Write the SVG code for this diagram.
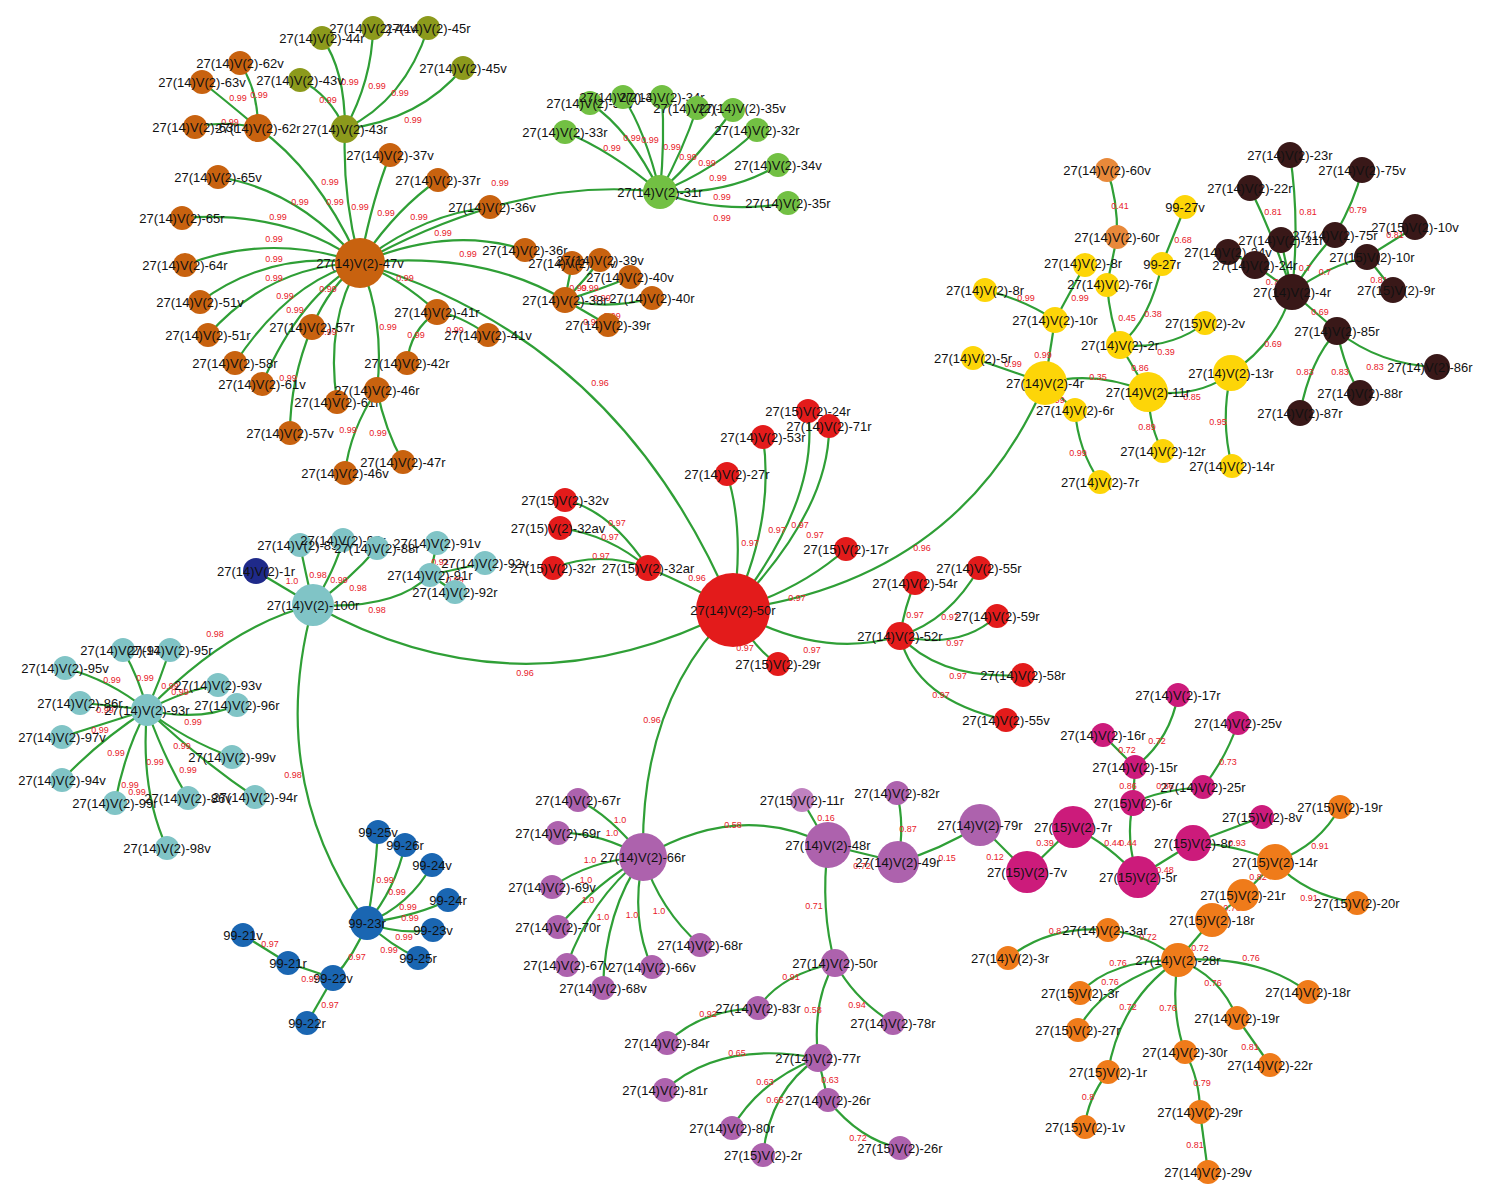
<svg xmlns="http://www.w3.org/2000/svg" width="1492" height="1200" viewBox="0 0 1492 1200">
<style>
.e{fill:none;stroke:#2f9f36;stroke-width:2.2}
.el{font-family:"Liberation Sans",Arial,sans-serif;font-size:9px;fill:#e8202a;text-anchor:middle}
text.t{font-family:"Liberation Sans",Arial,sans-serif;font-size:13px;fill:#111;text-anchor:middle}
.br circle{fill:#c8620f}.ol circle{fill:#8c9a1c}.gr circle{fill:#72c043}.rd circle{fill:#e31b1b}
.cy circle{fill:#80c4c6}.db circle{fill:#1f2a8a}.bl circle{fill:#1a66b2}.pu circle{fill:#ad62ad}
.pl circle{fill:#c082c0}.mg circle{fill:#cc1b7b}.or circle{fill:#ef7b1a}.ol2 circle{fill:#e8893a}
.ye circle{fill:#fdd508}.dk circle{fill:#391818}
</style>
<rect width="1492" height="1200" fill="#fff"/>
<g id="connectors">
<path class="e" d="M360 263Q342 195 345 129"/><path class="e" d="M360 263Q318 170 258 128"/><path class="e" d="M360 263Q300 190 218 177"/><path class="e" d="M360 263Q372 200 390 155"/><path class="e" d="M360 263Q395 210 438 180"/><path class="e" d="M360 263Q420 215 490 207"/><path class="e" d="M360 263Q450 225 525 250"/><path class="e" d="M360 263Q480 250 565 300"/><path class="e" d="M360 263Q520 175 660 192"/><path class="e" d="M360 263Q290 210 182 218"/><path class="e" d="M360 263Q270 232 185 265"/><path class="e" d="M360 263Q270 250 200 302"/><path class="e" d="M360 263Q270 265 208 335"/><path class="e" d="M360 263Q290 280 235 363"/><path class="e" d="M360 263Q300 295 262 384"/><path class="e" d="M360 263Q330 285 312 327"/><path class="e" d="M360 263Q325 320 337 402"/><path class="e" d="M360 263Q385 320 377 390"/><path class="e" d="M360 263Q400 278 437 312"/><path class="e" d="M360 263Q620 340 733 610"/><path class="e" d="M312 327Q290 380 290 433"/><path class="e" d="M377 390Q350 430 345 473"/><path class="e" d="M377 390Q385 430 403 462"/><path class="e" d="M437 312Q410 330 407 363"/><path class="e" d="M437 312Q460 315 488 335"/><path class="e" d="M258 128Q258 90 240 63"/><path class="e" d="M258 128Q225 100 202 82"/><path class="e" d="M258 128Q225 120 195 127"/><path class="e" d="M345 129Q330 95 300 80"/><path class="e" d="M345 129Q345 70 322 38"/><path class="e" d="M345 129Q372 80 373 28"/><path class="e" d="M345 129Q405 100 428 28"/><path class="e" d="M345 129Q420 120 463 68"/><path class="e" d="M565 300L572 263"/><path class="e" d="M565 300Q585 280 600 260"/><path class="e" d="M565 300Q600 290 630 277"/><path class="e" d="M565 300Q610 310 652 298"/><path class="e" d="M565 300L608 325"/>
<path class="e" d="M660 192Q610 150 565 132"/><path class="e" d="M660 192Q630 130 590 103"/><path class="e" d="M660 192Q645 130 623 97"/><path class="e" d="M660 192Q665 140 662 97"/><path class="e" d="M660 192Q683 150 697 108"/><path class="e" d="M660 192Q700 155 733 110"/><path class="e" d="M660 192Q715 170 757 130"/><path class="e" d="M660 192Q730 195 778 165"/><path class="e" d="M660 192Q720 215 788 203"/>
<path class="e" d="M733 610Q820 500 808 411"/><path class="e" d="M733 610Q830 510 829 426"/><path class="e" d="M733 610Q775 520 763 437"/><path class="e" d="M733 610Q745 530 727 474"/><path class="e" d="M733 610Q800 590 846 549"/><path class="e" d="M733 610Q690 585 648 568"/><path class="e" d="M733 610Q755 650 778 664"/><path class="e" d="M733 610Q820 660 900 636"/><path class="e" d="M733 610Q960 580 1045 383"/><path class="e" d="M733 610Q520 720 313 605"/><path class="e" d="M733 610Q640 700 643 857"/><path class="e" d="M648 568Q610 510 565 500"/><path class="e" d="M648 568Q610 535 560 528"/><path class="e" d="M648 568Q600 550 553 568"/><path class="e" d="M900 636Q905 605 915 583"/><path class="e" d="M900 636Q950 620 979 568"/><path class="e" d="M900 636Q960 650 997 616"/><path class="e" d="M900 636Q940 680 1023 675"/><path class="e" d="M900 636Q915 700 1006 720"/>
<path class="e" d="M313 605L256 571"/><path class="e" d="M313 605Q305 570 300 545"/><path class="e" d="M313 605Q335 570 343 540"/><path class="e" d="M313 605Q350 580 377 548"/><path class="e" d="M313 605Q395 610 430 575"/><path class="e" d="M430 575L437 543"/><path class="e" d="M430 575L485 563"/><path class="e" d="M430 575L455 592"/><path class="e" d="M313 605Q230 625 147 710"/><path class="e" d="M313 605Q265 780 367 923"/>
<path class="e" d="M147 710Q140 680 123 650"/><path class="e" d="M147 710Q160 680 170 650"/><path class="e" d="M147 710Q110 680 65 668"/><path class="e" d="M147 710Q185 690 218 685"/><path class="e" d="M147 710Q200 722 237 705"/><path class="e" d="M147 710Q110 705 80 703"/><path class="e" d="M147 710Q100 725 62 737"/><path class="e" d="M147 710Q185 740 232 757"/><path class="e" d="M147 710Q100 740 62 780"/><path class="e" d="M147 710Q125 750 115 803"/><path class="e" d="M147 710Q165 760 188 798"/><path class="e" d="M147 710Q200 760 255 797"/><path class="e" d="M147 710Q140 790 167 848"/>
<path class="e" d="M367 923Q375 880 378 832"/><path class="e" d="M367 923Q395 890 405 845"/><path class="e" d="M367 923Q410 905 432 865"/><path class="e" d="M367 923Q420 915 448 900"/><path class="e" d="M367 923Q400 935 433 930"/><path class="e" d="M367 923Q390 945 418 958"/><path class="e" d="M367 923Q355 955 333 978"/><path class="e" d="M333 978L288 963"/><path class="e" d="M288 963L243 935"/><path class="e" d="M333 978L307 1023"/>
<path class="e" d="M643 857Q610 815 578 800"/><path class="e" d="M643 857Q600 832 558 833"/><path class="e" d="M643 857Q590 860 552 887"/><path class="e" d="M643 857Q600 880 558 927"/><path class="e" d="M643 857Q590 900 567 965"/><path class="e" d="M643 857Q605 910 603 988"/><path class="e" d="M643 857Q630 920 652 967"/><path class="e" d="M643 857Q660 910 700 945"/><path class="e" d="M643 857Q740 800 828 845"/><path class="e" d="M828 845L802 800"/><path class="e" d="M828 845L898 862"/><path class="e" d="M898 862Q905 825 897 793"/><path class="e" d="M898 862Q940 850 980 825"/><path class="e" d="M828 845Q820 910 835 963"/><path class="e" d="M835 963Q780 975 758 1008"/><path class="e" d="M758 1008Q700 1010 667 1043"/><path class="e" d="M835 963Q812 1000 818 1058"/><path class="e" d="M835 963Q855 1000 893 1023"/><path class="e" d="M818 1058Q720 1040 665 1090"/><path class="e" d="M818 1058Q760 1080 732 1128"/><path class="e" d="M818 1058Q770 1090 763 1155"/><path class="e" d="M818 1058L828 1100"/><path class="e" d="M828 1100Q860 1140 900 1148"/><path class="e" d="M980 825L1027 872"/>
<path class="e" d="M1178 695Q1170 740 1135 767"/><path class="e" d="M1103 735L1135 767"/><path class="e" d="M1135 767L1133 803"/><path class="e" d="M1133 803Q1160 790 1203 787"/><path class="e" d="M1203 787Q1225 760 1238 723"/><path class="e" d="M1133 803Q1125 840 1138 877"/><path class="e" d="M1073 827Q1110 845 1138 877"/><path class="e" d="M1073 827L1027 872"/><path class="e" d="M1138 877L1193 843"/><path class="e" d="M1193 843Q1240 845 1275 862"/><path class="e" d="M1193 843L1262 817"/>
<path class="e" d="M1275 862Q1320 845 1340 807"/><path class="e" d="M1275 862Q1305 895 1357 903"/><path class="e" d="M1275 862L1243 895"/><path class="e" d="M1243 895L1212 920"/><path class="e" d="M1212 920L1178 960"/><path class="e" d="M1178 960Q1150 935 1108 930"/><path class="e" d="M1108 930Q1050 925 1008 958"/><path class="e" d="M1178 960Q1260 955 1308 992"/><path class="e" d="M1178 960Q1110 960 1080 993"/><path class="e" d="M1178 960Q1100 985 1078 1030"/><path class="e" d="M1178 960Q1120 1000 1108 1072"/><path class="e" d="M1178 960Q1170 1010 1185 1052"/><path class="e" d="M1178 960Q1220 975 1237 1018"/><path class="e" d="M1237 1018L1270 1065"/><path class="e" d="M1185 1052Q1200 1080 1200 1112"/><path class="e" d="M1200 1112L1208 1172"/><path class="e" d="M1108 1072Q1087 1100 1085 1127"/>
<path class="e" d="M1107 170Q1118 200 1117 237"/><path class="e" d="M1117 237L1107 285"/><path class="e" d="M1185 207L1162 264"/><path class="e" d="M1162 264Q1150 320 1120 345"/><path class="e" d="M1107 285Q1110 320 1120 345"/><path class="e" d="M1085 265L1055 320"/><path class="e" d="M985 290Q1025 300 1055 320"/><path class="e" d="M1055 320L1045 383"/><path class="e" d="M973 358L1045 383"/><path class="e" d="M1045 383Q1095 370 1148 392"/><path class="e" d="M1120 345L1148 392"/><path class="e" d="M1120 345Q1170 350 1205 323"/><path class="e" d="M1045 383L1075 410"/><path class="e" d="M1075 410Q1078 450 1100 482"/><path class="e" d="M1148 392Q1150 430 1163 451"/><path class="e" d="M1148 392Q1200 398 1231 373"/><path class="e" d="M1231 373Q1220 420 1232 466"/><path class="e" d="M1231 373Q1275 345 1292 292"/>
<path class="e" d="M1292 292Q1300 220 1290 155"/><path class="e" d="M1292 292Q1275 240 1250 188"/><path class="e" d="M1292 292L1281 240"/><path class="e" d="M1292 292Q1315 255 1335 235"/><path class="e" d="M1335 235Q1355 200 1362 170"/><path class="e" d="M1292 292Q1330 265 1367 257"/><path class="e" d="M1367 257L1415 227"/><path class="e" d="M1367 257L1393 290"/><path class="e" d="M1292 292L1255 265"/><path class="e" d="M1255 265L1228 252"/><path class="e" d="M1292 292L1337 331"/><path class="e" d="M1337 331Q1380 365 1437 367"/><path class="e" d="M1337 331Q1345 370 1360 393"/><path class="e" d="M1337 331Q1310 360 1300 413"/>
<g id="edge-labels">
<text class="el" x="335" y="205">0.99</text><text class="el" x="330" y="185">0.99</text><text class="el" x="300" y="205">0.99</text><text class="el" x="360" y="210">0.99</text><text class="el" x="386" y="216">0.99</text><text class="el" x="419" y="220">0.99</text><text class="el" x="443" y="236">0.99</text><text class="el" x="468" y="257">0.99</text><text class="el" x="500" y="186">0.99</text><text class="el" x="278" y="220">0.99</text><text class="el" x="274" y="242">0.99</text><text class="el" x="274" y="262">0.99</text><text class="el" x="274" y="281">0.99</text><text class="el" x="285" y="299">0.99</text><text class="el" x="295" y="313">0.99</text><text class="el" x="328" y="292">0.99</text><text class="el" x="328" y="335">0.99</text><text class="el" x="388" y="330">0.99</text><text class="el" x="405" y="281">0.99</text><text class="el" x="600" y="386">0.96</text><text class="el" x="288" y="381">0.99</text><text class="el" x="348" y="433">0.99</text><text class="el" x="378" y="436">0.99</text><text class="el" x="416" y="338">0.99</text><text class="el" x="455" y="333">0.99</text><text class="el" x="259" y="98">0.99</text><text class="el" x="238" y="101">0.99</text><text class="el" x="230" y="125">0.99</text><text class="el" x="328" y="103">0.99</text><text class="el" x="350" y="85">0.99</text><text class="el" x="377" y="89">0.99</text><text class="el" x="400" y="96">0.99</text><text class="el" x="413" y="123">0.99</text><text class="el" x="578" y="291">0.99</text><text class="el" x="590" y="291">0.99</text><text class="el" x="602" y="301">0.99</text><text class="el" x="612" y="319">0.99</text><text class="el" x="592" y="325">0.99</text>
<text class="el" x="612" y="151">0.99</text><text class="el" x="632" y="141">0.99</text><text class="el" x="650" y="143">0.99</text><text class="el" x="672" y="150">0.99</text><text class="el" x="688" y="160">0.99</text><text class="el" x="707" y="166">0.99</text><text class="el" x="718" y="181">0.99</text><text class="el" x="722" y="200">0.99</text><text class="el" x="722" y="221">0.99</text>
<text class="el" x="800" y="528">0.97</text><text class="el" x="815" y="538">0.97</text><text class="el" x="777" y="533">0.97</text><text class="el" x="750" y="546">0.97</text><text class="el" x="797" y="601">0.97</text><text class="el" x="697" y="581">0.96</text><text class="el" x="745" y="651">0.97</text><text class="el" x="812" y="653">0.97</text><text class="el" x="922" y="551">0.96</text><text class="el" x="525" y="676">0.96</text><text class="el" x="652" y="723">0.96</text><text class="el" x="617" y="526">0.97</text><text class="el" x="610" y="540">0.97</text><text class="el" x="601" y="559">0.97</text><text class="el" x="915" y="618">0.97</text><text class="el" x="950" y="620">0.97</text><text class="el" x="955" y="646">0.97</text><text class="el" x="958" y="679">0.97</text><text class="el" x="941" y="698">0.97</text>
<text class="el" x="292" y="584">1.0</text><text class="el" x="318" y="578">0.98</text><text class="el" x="339" y="583">0.99</text><text class="el" x="358" y="591">0.98</text><text class="el" x="377" y="613">0.98</text><text class="el" x="440" y="565">0.92</text><text class="el" x="455" y="583">0.99</text><text class="el" x="215" y="637">0.98</text><text class="el" x="293" y="778">0.98</text>
<text class="el" x="145" y="681">0.99</text><text class="el" x="170" y="689">0.99</text><text class="el" x="112" y="683">0.99</text><text class="el" x="180" y="695">0.99</text><text class="el" x="193" y="725">0.99</text><text class="el" x="105" y="713">0.99</text><text class="el" x="100" y="733">0.99</text><text class="el" x="182" y="749">0.99</text><text class="el" x="116" y="756">0.99</text><text class="el" x="130" y="788">0.99</text><text class="el" x="155" y="765">0.99</text><text class="el" x="188" y="773">0.99</text><text class="el" x="137" y="795">0.99</text>
<text class="el" x="385" y="883">0.99</text><text class="el" x="397" y="895">0.99</text><text class="el" x="408" y="910">0.99</text><text class="el" x="410" y="921">0.99</text><text class="el" x="404" y="940">0.99</text><text class="el" x="389" y="953">0.99</text><text class="el" x="357" y="960">0.97</text><text class="el" x="310" y="982">0.97</text><text class="el" x="270" y="947">0.97</text><text class="el" x="330" y="1008">0.97</text>
<text class="el" x="620" y="823">1.0</text><text class="el" x="612" y="836">1.0</text><text class="el" x="590" y="863">1.0</text><text class="el" x="586" y="883">1.0</text><text class="el" x="588" y="903">1.0</text><text class="el" x="603" y="920">1.0</text><text class="el" x="632" y="918">1.0</text><text class="el" x="659" y="914">1.0</text><text class="el" x="733" y="828">0.58</text><text class="el" x="826" y="821">0.16</text><text class="el" x="862" y="869">0.72</text><text class="el" x="908" y="832">0.87</text><text class="el" x="947" y="861">0.15</text><text class="el" x="814" y="909">0.71</text><text class="el" x="791" y="980">0.91</text><text class="el" x="708" y="1017">0.92</text><text class="el" x="813" y="1013">0.58</text><text class="el" x="857" y="1008">0.94</text><text class="el" x="737" y="1056">0.65</text><text class="el" x="765" y="1085">0.63</text><text class="el" x="775" y="1103">0.65</text><text class="el" x="830" y="1083">0.63</text><text class="el" x="858" y="1141">0.72</text><text class="el" x="995" y="860">0.12</text>
<text class="el" x="1157" y="744">0.72</text><text class="el" x="1127" y="753">0.72</text><text class="el" x="1128" y="789">0.86</text><text class="el" x="1165" y="789">0.86</text><text class="el" x="1228" y="765">0.73</text><text class="el" x="1128" y="846">0.44</text><text class="el" x="1113" y="846">0.44</text><text class="el" x="1045" y="846">0.39</text><text class="el" x="1165" y="873">0.48</text><text class="el" x="1237" y="846">0.93</text>
<text class="el" x="1320" y="849">0.91</text><text class="el" x="1309" y="901">0.91</text><text class="el" x="1258" y="880">0.82</text><text class="el" x="1232" y="911">0.78</text><text class="el" x="1200" y="951">0.72</text><text class="el" x="1148" y="940">0.72</text><text class="el" x="1055" y="934">0.8</text><text class="el" x="1251" y="961">0.76</text><text class="el" x="1118" y="966">0.76</text><text class="el" x="1110" y="985">0.76</text><text class="el" x="1128" y="1010">0.72</text><text class="el" x="1168" y="1011">0.76</text><text class="el" x="1213" y="986">0.76</text><text class="el" x="1250" y="1050">0.81</text><text class="el" x="1202" y="1086">0.79</text><text class="el" x="1195" y="1148">0.81</text><text class="el" x="1088" y="1100">0.8</text>
<text class="el" x="1120" y="209">0.41</text><text class="el" x="1183" y="243">0.68</text><text class="el" x="1153" y="317">0.38</text><text class="el" x="1127" y="321">0.45</text><text class="el" x="1080" y="301">0.99</text><text class="el" x="1026" y="301">0.99</text><text class="el" x="1043" y="358">0.99</text><text class="el" x="1013" y="367">0.99</text><text class="el" x="1098" y="380">0.35</text><text class="el" x="1140" y="371">0.86</text><text class="el" x="1166" y="355">0.39</text><text class="el" x="1056" y="403">0.99</text><text class="el" x="1078" y="456">0.99</text><text class="el" x="1147" y="430">0.89</text><text class="el" x="1192" y="400">0.85</text><text class="el" x="1218" y="425">0.95</text><text class="el" x="1273" y="347">0.69</text>
<text class="el" x="1308" y="215">0.81</text><text class="el" x="1273" y="215">0.81</text><text class="el" x="1305" y="271">0.7</text><text class="el" x="1358" y="213">0.79</text><text class="el" x="1325" y="275">0.7</text><text class="el" x="1395" y="238">0.81</text><text class="el" x="1379" y="283">0.81</text><text class="el" x="1272" y="285">0.7</text><text class="el" x="1320" y="315">0.69</text><text class="el" x="1375" y="370">0.83</text><text class="el" x="1340" y="375">0.83</text><text class="el" x="1305" y="375">0.83</text>
</g>
</g>
<g id="nodes">
<g id="b47v" class="br"><circle cx="360" cy="263" r="25"/><text class="t" x="360" y="268">27(14)V(2)-47v</text></g>
<g id="b62v" class="br"><circle cx="240" cy="63" r="12"/><text class="t" x="240" y="68">27(14)V(2)-62v</text></g>
<g id="b63v" class="br"><circle cx="202" cy="82" r="12"/><text class="t" x="202" y="87">27(14)V(2)-63v</text></g>
<g id="b63r" class="br"><circle cx="195" cy="127" r="12"/><text class="t" x="195" y="132">27(14)V(2)-63r</text></g>
<g id="b62r" class="br"><circle cx="258" cy="128" r="14"/><text class="t" x="258" y="133">27(14)V(2)-62r</text></g>
<g id="b37v" class="br"><circle cx="390" cy="155" r="12"/><text class="t" x="390" y="160">27(14)V(2)-37v</text></g>
<g id="b37r" class="br"><circle cx="438" cy="180" r="12"/><text class="t" x="438" y="185">27(14)V(2)-37r</text></g>
<g id="b36v" class="br"><circle cx="490" cy="207" r="12"/><text class="t" x="492" y="212">27(14)V(2)-36v</text></g>
<g id="b65v" class="br"><circle cx="218" cy="177" r="12"/><text class="t" x="218" y="182">27(14)V(2)-65v</text></g>
<g id="b65r" class="br"><circle cx="182" cy="218" r="12"/><text class="t" x="182" y="223">27(14)V(2)-65r</text></g>
<g id="b64r" class="br"><circle cx="185" cy="265" r="12"/><text class="t" x="185" y="270">27(14)V(2)-64r</text></g>
<g id="b51v" class="br"><circle cx="200" cy="302" r="12"/><text class="t" x="200" y="307">27(14)V(2)-51v</text></g>
<g id="b51r" class="br"><circle cx="208" cy="335" r="12"/><text class="t" x="208" y="340">27(14)V(2)-51r</text></g>
<g id="b58r" class="br"><circle cx="235" cy="363" r="12"/><text class="t" x="235" y="368">27(14)V(2)-58r</text></g>
<g id="b61v" class="br"><circle cx="262" cy="384" r="12"/><text class="t" x="262" y="389">27(14)V(2)-61v</text></g>
<g id="b57r" class="br"><circle cx="312" cy="327" r="13"/><text class="t" x="312" y="332">27(14)V(2)-57r</text></g>
<g id="b57v" class="br"><circle cx="290" cy="433" r="12"/><text class="t" x="290" y="438">27(14)V(2)-57v</text></g>
<g id="b61r" class="br"><circle cx="337" cy="402" r="12"/><text class="t" x="337" y="407">27(14)V(2)-61r</text></g>
<g id="b46r" class="br"><circle cx="377" cy="390" r="13"/><text class="t" x="377" y="395">27(14)V(2)-46r</text></g>
<g id="b46v" class="br"><circle cx="345" cy="473" r="12"/><text class="t" x="345" y="478">27(14)V(2)-46v</text></g>
<g id="b47r" class="br"><circle cx="403" cy="462" r="12"/><text class="t" x="403" y="467">27(14)V(2)-47r</text></g>
<g id="b42r" class="br"><circle cx="407" cy="363" r="12"/><text class="t" x="407" y="368">27(14)V(2)-42r</text></g>
<g id="b41r" class="br"><circle cx="437" cy="312" r="13"/><text class="t" x="437" y="317">27(14)V(2)-41r</text></g>
<g id="b41v" class="br"><circle cx="488" cy="335" r="12"/><text class="t" x="488" y="340">27(14)V(2)-41v</text></g>
<g id="b36r" class="br"><circle cx="525" cy="250" r="12"/><text class="t" x="525" y="255">27(14)V(2)-36r</text></g>
<g id="b38v" class="br"><circle cx="572" cy="263" r="12"/><text class="t" x="572" y="268">27(14)V(2)-38v</text></g>
<g id="b39v" class="br"><circle cx="600" cy="260" r="12"/><text class="t" x="600" y="265">27(14)V(2)-39v</text></g>
<g id="b40v" class="br"><circle cx="630" cy="277" r="12"/><text class="t" x="630" y="282">27(14)V(2)-40v</text></g>
<g id="b40r" class="br"><circle cx="652" cy="298" r="12"/><text class="t" x="652" y="303">27(14)V(2)-40r</text></g>
<g id="b38r" class="br"><circle cx="565" cy="300" r="13"/><text class="t" x="565" y="305">27(14)V(2)-38r</text></g>
<g id="b39r" class="br"><circle cx="608" cy="325" r="12"/><text class="t" x="608" y="330">27(14)V(2)-39r</text></g>
<g id="o43r" class="ol"><circle cx="345" cy="129" r="14"/><text class="t" x="345" y="134">27(14)V(2)-43r</text></g>
<g id="o43v" class="ol"><circle cx="300" cy="80" r="12"/><text class="t" x="300" y="85">27(14)V(2)-43v</text></g>
<g id="o44r" class="ol"><circle cx="322" cy="38" r="12"/><text class="t" x="322" y="43">27(14)V(2)-44r</text></g>
<g id="o44v" class="ol"><circle cx="373" cy="28" r="12"/><text class="t" x="373" y="33">27(14)V(2)-44v</text></g>
<g id="o45r" class="ol"><circle cx="428" cy="28" r="12"/><text class="t" x="428" y="33">27(14)V(2)-45r</text></g>
<g id="o45v" class="ol"><circle cx="463" cy="68" r="12"/><text class="t" x="463" y="73">27(14)V(2)-45v</text></g>
<g id="g31r" class="gr"><circle cx="660" cy="192" r="17"/><text class="t" x="660" y="197">27(14)V(2)-31r</text></g>
<g id="g33r" class="gr"><circle cx="565" cy="132" r="12"/><text class="t" x="565" y="137">27(14)V(2)-33r</text></g>
<g id="g31v" class="gr"><circle cx="590" cy="103" r="12"/><text class="t" x="590" y="108">27(14)V(2)-31v</text></g>
<g id="g32v" class="gr"><circle cx="623" cy="97" r="12"/><text class="t" x="623" y="102">27(14)V(2)-32v</text></g>
<g id="g34r" class="gr"><circle cx="662" cy="97" r="12"/><text class="t" x="662" y="102">27(14)V(2)-34r</text></g>
<g id="g33v" class="gr"><circle cx="697" cy="108" r="12"/><text class="t" x="697" y="113">27(14)V(2)-33v</text></g>
<g id="g35v" class="gr"><circle cx="733" cy="110" r="12"/><text class="t" x="742" y="113">27(14)V(2)-35v</text></g>
<g id="g32r" class="gr"><circle cx="757" cy="130" r="12"/><text class="t" x="757" y="135">27(14)V(2)-32r</text></g>
<g id="g34v" class="gr"><circle cx="778" cy="165" r="12"/><text class="t" x="778" y="170">27(14)V(2)-34v</text></g>
<g id="g35r" class="gr"><circle cx="788" cy="203" r="12"/><text class="t" x="788" y="208">27(14)V(2)-35r</text></g>
<g id="r50r" class="rd"><circle cx="733" cy="610" r="37"/><text class="t" x="733" y="615">27(14)V(2)-50r</text></g>
<g id="r24r" class="rd"><circle cx="808" cy="411" r="12"/><text class="t" x="808" y="416">27(15)V(2)-24r</text></g>
<g id="r71r" class="rd"><circle cx="829" cy="426" r="12"/><text class="t" x="829" y="431">27(14)V(2)-71r</text></g>
<g id="r53r" class="rd"><circle cx="763" cy="437" r="12"/><text class="t" x="763" y="442">27(14)V(2)-53r</text></g>
<g id="r27r" class="rd"><circle cx="727" cy="474" r="12"/><text class="t" x="727" y="479">27(14)V(2)-27r</text></g>
<g id="r17r" class="rd"><circle cx="846" cy="549" r="12"/><text class="t" x="846" y="554">27(15)V(2)-17r</text></g>
<g id="r32v" class="rd"><circle cx="565" cy="500" r="12"/><text class="t" x="565" y="505">27(15)V(2)-32v</text></g>
<g id="r32av" class="rd"><circle cx="560" cy="528" r="12"/><text class="t" x="558" y="533">27(15)V(2)-32av</text></g>
<g id="r32r" class="rd"><circle cx="553" cy="568" r="12"/><text class="t" x="553" y="573">27(15)V(2)-32r</text></g>
<g id="r32ar" class="rd"><circle cx="648" cy="568" r="13"/><text class="t" x="648" y="573">27(15)V(2)-32ar</text></g>
<g id="r29r" class="rd"><circle cx="778" cy="664" r="12"/><text class="t" x="778" y="669">27(15)V(2)-29r</text></g>
<g id="r52r" class="rd"><circle cx="900" cy="636" r="14"/><text class="t" x="900" y="641">27(14)V(2)-52r</text></g>
<g id="r54r" class="rd"><circle cx="915" cy="583" r="12"/><text class="t" x="915" y="588">27(14)V(2)-54r</text></g>
<g id="r55r" class="rd"><circle cx="979" cy="568" r="12"/><text class="t" x="979" y="573">27(14)V(2)-55r</text></g>
<g id="r59r" class="rd"><circle cx="997" cy="616" r="12"/><text class="t" x="997" y="621">27(14)V(2)-59r</text></g>
<g id="r58r" class="rd"><circle cx="1023" cy="675" r="12"/><text class="t" x="1023" y="680">27(14)V(2)-58r</text></g>
<g id="r55v" class="rd"><circle cx="1006" cy="720" r="12"/><text class="t" x="1006" y="725">27(14)V(2)-55v</text></g>
<g id="c100r" class="cy"><circle cx="313" cy="605" r="21"/><text class="t" x="313" y="610">27(14)V(2)-100r</text></g>
<g id="d1r" class="db"><circle cx="256" cy="571" r="13"/><text class="t" x="256" y="576">27(14)V(2)-1r</text></g>
<g id="c89r" class="cy"><circle cx="300" cy="545" r="12"/><text class="t" x="300" y="550">27(14)V(2)-89r</text></g>
<g id="c90r" class="cy"><circle cx="343" cy="540" r="12"/><text class="t" x="343" y="545">27(14)V(2)-90r</text></g>
<g id="c88r" class="cy"><circle cx="377" cy="548" r="12"/><text class="t" x="377" y="553">27(14)V(2)-88r</text></g>
<g id="c91v" class="cy"><circle cx="437" cy="543" r="12"/><text class="t" x="437" y="548">27(14)V(2)-91v</text></g>
<g id="c92v" class="cy"><circle cx="485" cy="563" r="12"/><text class="t" x="485" y="568">27(14)V(2)-92v</text></g>
<g id="c91r" class="cy"><circle cx="430" cy="575" r="12"/><text class="t" x="430" y="580">27(14)V(2)-91r</text></g>
<g id="c92r" class="cy"><circle cx="455" cy="592" r="12"/><text class="t" x="455" y="597">27(14)V(2)-92r</text></g>
<g id="c93r" class="cy"><circle cx="147" cy="710" r="16"/><text class="t" x="147" y="715">27(14)V(2)-93r</text></g>
<g id="c97r" class="cy"><circle cx="123" cy="650" r="12"/><text class="t" x="123" y="655">27(14)V(2)-97r</text></g>
<g id="c95r" class="cy"><circle cx="170" cy="650" r="12"/><text class="t" x="170" y="655">27(14)V(2)-95r</text></g>
<g id="c95v" class="cy"><circle cx="65" cy="668" r="12"/><text class="t" x="65" y="673">27(14)V(2)-95v</text></g>
<g id="c93v" class="cy"><circle cx="218" cy="685" r="12"/><text class="t" x="218" y="690">27(14)V(2)-93v</text></g>
<g id="c96r" class="cy"><circle cx="237" cy="705" r="12"/><text class="t" x="237" y="710">27(14)V(2)-96r</text></g>
<g id="c86r" class="cy"><circle cx="80" cy="703" r="12"/><text class="t" x="80" y="708">27(14)V(2)-86r</text></g>
<g id="c97v" class="cy"><circle cx="62" cy="737" r="12"/><text class="t" x="62" y="742">27(14)V(2)-97v</text></g>
<g id="c99v" class="cy"><circle cx="232" cy="757" r="12"/><text class="t" x="232" y="762">27(14)V(2)-99v</text></g>
<g id="c94v" class="cy"><circle cx="62" cy="780" r="12"/><text class="t" x="62" y="785">27(14)V(2)-94v</text></g>
<g id="c99r" class="cy"><circle cx="115" cy="803" r="12"/><text class="t" x="115" y="808">27(14)V(2)-99r</text></g>
<g id="c86v" class="cy"><circle cx="188" cy="798" r="12"/><text class="t" x="188" y="803">27(14)V(2)-86v</text></g>
<g id="c94r" class="cy"><circle cx="255" cy="797" r="12"/><text class="t" x="255" y="802">27(14)V(2)-94r</text></g>
<g id="c98v" class="cy"><circle cx="167" cy="848" r="12"/><text class="t" x="167" y="853">27(14)V(2)-98v</text></g>
<g id="u23r" class="bl"><circle cx="367" cy="923" r="17"/><text class="t" x="367" y="928">99-23r</text></g>
<g id="u25v" class="bl"><circle cx="378" cy="832" r="12"/><text class="t" x="378" y="837">99-25v</text></g>
<g id="u26r" class="bl"><circle cx="405" cy="845" r="12"/><text class="t" x="405" y="850">99-26r</text></g>
<g id="u24v" class="bl"><circle cx="432" cy="865" r="12"/><text class="t" x="432" y="870">99-24v</text></g>
<g id="u24r" class="bl"><circle cx="448" cy="900" r="12"/><text class="t" x="448" y="905">99-24r</text></g>
<g id="u23v" class="bl"><circle cx="433" cy="930" r="12"/><text class="t" x="433" y="935">99-23v</text></g>
<g id="u25r" class="bl"><circle cx="418" cy="958" r="12"/><text class="t" x="418" y="963">99-25r</text></g>
<g id="u22v" class="bl"><circle cx="333" cy="978" r="13"/><text class="t" x="333" y="983">99-22v</text></g>
<g id="u21r" class="bl"><circle cx="288" cy="963" r="12"/><text class="t" x="288" y="968">99-21r</text></g>
<g id="u21v" class="bl"><circle cx="243" cy="935" r="12"/><text class="t" x="243" y="940">99-21v</text></g>
<g id="u22r" class="bl"><circle cx="307" cy="1023" r="12"/><text class="t" x="307" y="1028">99-22r</text></g>
<g id="p66r" class="pu"><circle cx="643" cy="857" r="24"/><text class="t" x="643" y="862">27(14)V(2)-66r</text></g>
<g id="p67r" class="pu"><circle cx="578" cy="800" r="12"/><text class="t" x="578" y="805">27(14)V(2)-67r</text></g>
<g id="p69r" class="pu"><circle cx="558" cy="833" r="12"/><text class="t" x="558" y="838">27(14)V(2)-69r</text></g>
<g id="p69v" class="pu"><circle cx="552" cy="887" r="12"/><text class="t" x="552" y="892">27(14)V(2)-69v</text></g>
<g id="p70r" class="pu"><circle cx="558" cy="927" r="12"/><text class="t" x="558" y="932">27(14)V(2)-70r</text></g>
<g id="p67v" class="pu"><circle cx="567" cy="965" r="12"/><text class="t" x="567" y="970">27(14)V(2)-67v</text></g>
<g id="p68v" class="pu"><circle cx="603" cy="988" r="12"/><text class="t" x="603" y="993">27(14)V(2)-68v</text></g>
<g id="p66v" class="pu"><circle cx="652" cy="967" r="12"/><text class="t" x="652" y="972">27(14)V(2)-66v</text></g>
<g id="p68r" class="pu"><circle cx="700" cy="945" r="12"/><text class="t" x="700" y="950">27(14)V(2)-68r</text></g>
<g id="p48r" class="pu"><circle cx="828" cy="845" r="23"/><text class="t" x="828" y="850">27(14)V(2)-48r</text></g>
<g id="p11r" class="pl"><circle cx="802" cy="800" r="12"/><text class="t" x="802" y="805">27(15)V(2)-11r</text></g>
<g id="p82r" class="pu"><circle cx="897" cy="793" r="12"/><text class="t" x="897" y="798">27(14)V(2)-82r</text></g>
<g id="p49r" class="pu"><circle cx="898" cy="862" r="21"/><text class="t" x="898" y="867">27(14)V(2)-49r</text></g>
<g id="p79r" class="pu"><circle cx="980" cy="825" r="21"/><text class="t" x="980" y="830">27(14)V(2)-79r</text></g>
<g id="p50r" class="pu"><circle cx="835" cy="963" r="14"/><text class="t" x="835" y="968">27(14)V(2)-50r</text></g>
<g id="p83r" class="pu"><circle cx="758" cy="1008" r="12"/><text class="t" x="758" y="1013">27(14)V(2)-83r</text></g>
<g id="p78r" class="pu"><circle cx="893" cy="1023" r="12"/><text class="t" x="893" y="1028">27(14)V(2)-78r</text></g>
<g id="p84r" class="pu"><circle cx="667" cy="1043" r="12"/><text class="t" x="667" y="1048">27(14)V(2)-84r</text></g>
<g id="p77r" class="pu"><circle cx="818" cy="1058" r="14"/><text class="t" x="818" y="1063">27(14)V(2)-77r</text></g>
<g id="p81r" class="pu"><circle cx="665" cy="1090" r="12"/><text class="t" x="665" y="1095">27(14)V(2)-81r</text></g>
<g id="p26r" class="pu"><circle cx="828" cy="1100" r="12"/><text class="t" x="828" y="1105">27(14)V(2)-26r</text></g>
<g id="p80r" class="pu"><circle cx="732" cy="1128" r="12"/><text class="t" x="732" y="1133">27(14)V(2)-80r</text></g>
<g id="p2r" class="pu"><circle cx="763" cy="1155" r="12"/><text class="t" x="763" y="1160">27(15)V(2)-2r</text></g>
<g id="p26r15" class="pu"><circle cx="900" cy="1148" r="12"/><text class="t" x="900" y="1153">27(15)V(2)-26r</text></g>
<g id="m17r" class="mg"><circle cx="1178" cy="695" r="12"/><text class="t" x="1178" y="700">27(14)V(2)-17r</text></g>
<g id="m25v" class="mg"><circle cx="1238" cy="723" r="12"/><text class="t" x="1238" y="728">27(14)V(2)-25v</text></g>
<g id="m16r" class="mg"><circle cx="1103" cy="735" r="12"/><text class="t" x="1103" y="740">27(14)V(2)-16r</text></g>
<g id="m15r" class="mg"><circle cx="1135" cy="767" r="12"/><text class="t" x="1135" y="772">27(14)V(2)-15r</text></g>
<g id="m25r" class="mg"><circle cx="1203" cy="787" r="12"/><text class="t" x="1203" y="792">27(14)V(2)-25r</text></g>
<g id="m6r" class="mg"><circle cx="1133" cy="803" r="13"/><text class="t" x="1133" y="808">27(15)V(2)-6r</text></g>
<g id="m7r" class="mg"><circle cx="1073" cy="827" r="21"/><text class="t" x="1073" y="832">27(15)V(2)-7r</text></g>
<g id="m7v" class="mg"><circle cx="1027" cy="872" r="21"/><text class="t" x="1027" y="877">27(15)V(2)-7v</text></g>
<g id="m5r" class="mg"><circle cx="1138" cy="877" r="21"/><text class="t" x="1138" y="882">27(15)V(2)-5r</text></g>
<g id="m8r" class="mg"><circle cx="1193" cy="843" r="18"/><text class="t" x="1193" y="848">27(15)V(2)-8r</text></g>
<g id="m8v" class="mg"><circle cx="1262" cy="817" r="12"/><text class="t" x="1262" y="822">27(15)V(2)-8v</text></g>
<g id="f14r" class="or"><circle cx="1275" cy="862" r="18"/><text class="t" x="1275" y="867">27(15)V(2)-14r</text></g>
<g id="f19r" class="or"><circle cx="1340" cy="807" r="12"/><text class="t" x="1340" y="812">27(15)V(2)-19r</text></g>
<g id="f20r" class="or"><circle cx="1357" cy="903" r="12"/><text class="t" x="1357" y="908">27(15)V(2)-20r</text></g>
<g id="f21r" class="or"><circle cx="1243" cy="895" r="16"/><text class="t" x="1243" y="900">27(15)V(2)-21r</text></g>
<g id="f18r15" class="or"><circle cx="1212" cy="920" r="17"/><text class="t" x="1212" y="925">27(15)V(2)-18r</text></g>
<g id="f3ar" class="or"><circle cx="1108" cy="930" r="12"/><text class="t" x="1105" y="935">27(14)V(2)-3ar</text></g>
<g id="f3r" class="or"><circle cx="1008" cy="958" r="12"/><text class="t" x="1010" y="963">27(14)V(2)-3r</text></g>
<g id="f28r" class="or"><circle cx="1178" cy="960" r="17"/><text class="t" x="1178" y="965">27(14)V(2)-28r</text></g>
<g id="f18r14" class="or"><circle cx="1308" cy="992" r="12"/><text class="t" x="1308" y="997">27(14)V(2)-18r</text></g>
<g id="f3r15" class="or"><circle cx="1080" cy="993" r="12"/><text class="t" x="1080" y="998">27(15)V(2)-3r</text></g>
<g id="f27r15" class="or"><circle cx="1078" cy="1030" r="12"/><text class="t" x="1078" y="1035">27(15)V(2)-27r</text></g>
<g id="f19r14" class="or"><circle cx="1237" cy="1018" r="12"/><text class="t" x="1237" y="1023">27(14)V(2)-19r</text></g>
<g id="f30r" class="or"><circle cx="1185" cy="1052" r="12"/><text class="t" x="1185" y="1057">27(14)V(2)-30r</text></g>
<g id="f1r15" class="or"><circle cx="1108" cy="1072" r="12"/><text class="t" x="1108" y="1077">27(15)V(2)-1r</text></g>
<g id="f22r" class="or"><circle cx="1270" cy="1065" r="12"/><text class="t" x="1270" y="1070">27(14)V(2)-22r</text></g>
<g id="f29r" class="or"><circle cx="1200" cy="1112" r="12"/><text class="t" x="1200" y="1117">27(14)V(2)-29r</text></g>
<g id="f1v" class="or"><circle cx="1085" cy="1127" r="12"/><text class="t" x="1085" y="1132">27(15)V(2)-1v</text></g>
<g id="f29v" class="or"><circle cx="1208" cy="1172" r="12"/><text class="t" x="1208" y="1177">27(14)V(2)-29v</text></g>
<g id="y60v" class="ol2"><circle cx="1107" cy="170" r="12"/><text class="t" x="1107" y="175">27(14)V(2)-60v</text></g>
<g id="y60r" class="ol2"><circle cx="1117" cy="237" r="12"/><text class="t" x="1117" y="242">27(14)V(2)-60r</text></g>
<g id="y27v" class="ye"><circle cx="1185" cy="207" r="12"/><text class="t" x="1185" y="212">99-27v</text></g>
<g id="y27r" class="ye"><circle cx="1162" cy="264" r="12"/><text class="t" x="1162" y="269">99-27r</text></g>
<g id="y8ru" class="ye"><circle cx="1085" cy="265" r="12"/><text class="t" x="1083" y="268">27(14)V(2)-8r</text></g>
<g id="y76r" class="ye"><circle cx="1107" cy="285" r="12"/><text class="t" x="1110" y="289">27(14)V(2)-76r</text></g>
<g id="y8r" class="ye"><circle cx="985" cy="290" r="12"/><text class="t" x="985" y="295">27(14)V(2)-8r</text></g>
<g id="y10r" class="ye"><circle cx="1055" cy="320" r="13"/><text class="t" x="1055" y="325">27(14)V(2)-10r</text></g>
<g id="y2v" class="ye"><circle cx="1205" cy="323" r="12"/><text class="t" x="1205" y="328">27(15)V(2)-2v</text></g>
<g id="y2r" class="ye"><circle cx="1120" cy="345" r="14"/><text class="t" x="1120" y="350">27(14)V(2)-2r</text></g>
<g id="y5r" class="ye"><circle cx="973" cy="358" r="12"/><text class="t" x="973" y="363">27(14)V(2)-5r</text></g>
<g id="y4r" class="ye"><circle cx="1045" cy="383" r="22"/><text class="t" x="1045" y="388">27(14)V(2)-4r</text></g>
<g id="y11r" class="ye"><circle cx="1148" cy="392" r="20"/><text class="t" x="1148" y="397">27(14)V(2)-11r</text></g>
<g id="y13r" class="ye"><circle cx="1231" cy="373" r="18"/><text class="t" x="1231" y="378">27(14)V(2)-13r</text></g>
<g id="y6r" class="ye"><circle cx="1075" cy="410" r="12"/><text class="t" x="1075" y="415">27(14)V(2)-6r</text></g>
<g id="y12r" class="ye"><circle cx="1163" cy="451" r="12"/><text class="t" x="1163" y="456">27(14)V(2)-12r</text></g>
<g id="y14r" class="ye"><circle cx="1232" cy="466" r="12"/><text class="t" x="1232" y="471">27(14)V(2)-14r</text></g>
<g id="y7r" class="ye"><circle cx="1100" cy="482" r="12"/><text class="t" x="1100" y="487">27(14)V(2)-7r</text></g>
<g id="k23r" class="dk"><circle cx="1290" cy="155" r="13"/><text class="t" x="1290" y="160">27(14)V(2)-23r</text></g>
<g id="k75v" class="dk"><circle cx="1362" cy="170" r="13"/><text class="t" x="1362" y="175">27(14)V(2)-75v</text></g>
<g id="k22r" class="dk"><circle cx="1250" cy="188" r="13"/><text class="t" x="1250" y="193">27(14)V(2)-22r</text></g>
<g id="k10v" class="dk"><circle cx="1415" cy="227" r="13"/><text class="t" x="1415" y="232">27(15)V(2)-10v</text></g>
<g id="k21r" class="dk"><circle cx="1281" cy="240" r="13"/><text class="t" x="1281" y="245">27(14)V(2)-21r</text></g>
<g id="k75r" class="dk"><circle cx="1335" cy="235" r="13"/><text class="t" x="1335" y="240">27(14)V(2)-75r</text></g>
<g id="k24v" class="dk"><circle cx="1228" cy="252" r="13"/><text class="t" x="1228" y="257">27(14)V(2)-24v</text></g>
<g id="k24r" class="dk"><circle cx="1255" cy="265" r="14"/><circle cx="1250" cy="262" r="4" fill="#e31b1b"/><text class="t" x="1255" y="270">27(14)V(2)-24r</text></g>
<g id="k10r" class="dk"><circle cx="1367" cy="257" r="13"/><text class="t" x="1372" y="262">27(15)V(2)-10r</text></g>
<g id="k4r" class="dk"><circle cx="1292" cy="292" r="18"/><text class="t" x="1292" y="297">27(14)V(2)-4r</text></g>
<g id="k9r" class="dk"><circle cx="1393" cy="290" r="13"/><text class="t" x="1396" y="295">27(15)V(2)-9r</text></g>
<g id="k85r" class="dk"><circle cx="1337" cy="331" r="14"/><text class="t" x="1337" y="336">27(14)V(2)-85r</text></g>
<g id="k86r" class="dk"><circle cx="1437" cy="367" r="13"/><text class="t" x="1430" y="372">27(14)V(2)-86r</text></g>
<g id="k88r" class="dk"><circle cx="1360" cy="393" r="13"/><text class="t" x="1360" y="398">27(14)V(2)-88r</text></g>
<g id="k87r" class="dk"><circle cx="1300" cy="413" r="13"/><text class="t" x="1300" y="418">27(14)V(2)-87r</text></g>
</g>
</svg>
